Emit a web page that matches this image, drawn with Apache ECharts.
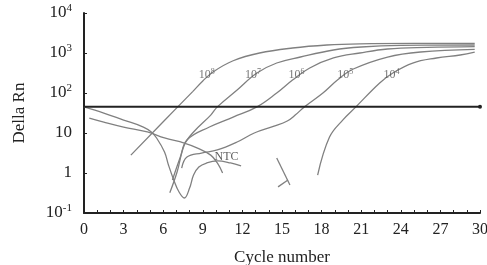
<!DOCTYPE html>
<html><head><meta charset="utf-8">
<script src="https://cdn.jsdelivr.net/npm/echarts@6/dist/echarts.min.js"></script>
<style>html,body{margin:0;padding:0;background:#fff}#c{width:487px;height:265px}</style>
</head><body><div id="c"></div>
<script>
// ---- data ----
const xTickLabels = [0, 3, 6, 9, 12, 15, 18, 21, 24, 27, 30];
const yTickLabels = ['10^-1', '1', '10', '10^2', '10^3', '10^4'];
const threshold = 45;
const thresholdCycles = [0, 30];

const c1e8 = [3.55, 7.1, 8.25, 9.0, 9.8, 11.3, 13.3, 15.8, 18.4, 20.9, 25, 29.6];
const v1e8 = [2.8, 45, 110, 200, 340, 640, 1000, 1334, 1585, 1700, 1740, 1740];

const c1e7 = [6.5, 7.05, 7.6, 8.3, 9.6, 10.1, 11.6, 13.1, 14.6, 16.4, 18.9, 21, 24, 29.6];
const v1e7 = [0.32, 1.06, 5.0, 10.6, 28, 45, 119, 316, 562, 794, 1189, 1413, 1550, 1585];

const c1e6 = [6.7, 7.3, 7.8, 9.5, 11.3, 13.1, 14.6, 15.8, 17.1, 18.9, 20.9, 23, 26, 29.6];
const v1e6 = [0.67, 2.5, 6.7, 14.1, 25, 45, 100, 211, 422, 750, 1000, 1259, 1380, 1445];

const c1e5 = [7.4, 7.8, 8.9, 10.1, 11.6, 12.9, 14.4, 15.4, 16.0, 16.7, 18.1, 19.2, 20.4, 23, 25.5, 29.6];
const v1e5 = [1.33, 2.5, 3.16, 3.76, 5.96, 10, 14.8, 20, 28, 45, 100, 211, 398, 794, 1059, 1230];

const c1e4 = [17.7, 18.6, 19.6, 20.6, 22.4, 23.4, 24.9, 26.7, 28.5, 29.6];
const v1e4 = [0.89, 7.9, 21, 45, 178, 316, 562, 750, 891, 1047];

const cNTC = [0, 1.5, 3.0, 4.5, 5.1, 5.5, 6.1, 6.4, 6.8, 7.2, 7.6, 8.0, 8.3, 8.7, 9.3, 10.1, 11.1, 11.9];
const vNTC = [44.7, 31.6, 21.1, 14.1, 10.6, 7.5, 3.35, 1.58, 0.67, 0.335, 0.237, 0.42, 0.89, 1.41, 1.78, 2.0, 1.78, 1.5];

const cBg = [0.4, 1.5, 3.0, 4.8, 6.1, 7.6, 8.6, 9.6, 10.1, 10.5];
const vBg = [23.7, 18.8, 14.1, 10.6, 7.5, 5.6, 4.2, 2.8, 1.78, 1.0];

const cSeg1 = [14.6, 15.6];
const vSeg1 = [2.37, 0.5];
const cSeg2 = [14.7, 15.45];
const vSeg2 = [0.45, 0.67];

const curveLabels = ['8', '7', '6', '5', '4'];
const labelCycles = [9.3, 12.8, 16.1, 19.8, 23.3];
const labelValue = 282;
const ntcLabel = 'NTC';
const ntcPos = [10.8, 2.6];

// ---- chart ----
const FONT = "'Liberation Serif', 'Times New Roman', serif";
const GRAY = '#808080';
function pairs(c, v) { return c.map((x, i) => [x, v[i]]); }
function curve(c, v) {
  return { type: 'line', data: pairs(c, v), smooth: 0.4, symbol: 'none',
    lineStyle: { color: GRAY, width: 1.3 }, silent: true, z: 2 };
}
const series = [
  curve(c1e8, v1e8), curve(c1e7, v1e7), curve(c1e6, v1e6), curve(c1e5, v1e5),
  curve(c1e4, v1e4), curve(cNTC, vNTC), curve(cBg, vBg), curve(cSeg1, vSeg1), curve(cSeg2, vSeg2),
  { type: 'line', data: thresholdCycles.map(x => [x, threshold]), symbol: 'none',
    lineStyle: { color: '#222', width: 2 }, z: 3,
    markPoint: { symbol: 'circle', symbolSize: 4, itemStyle: { color: '#222' },
      label: { show: false }, data: [{ coord: [thresholdCycles[1], threshold] }] } },
  { type: 'scatter', symbolSize: 0, z: 4,
    data: labelCycles.map((x, i) => ({ value: [x, labelValue], name: curveLabels[i] })),
    label: { show: true, position: 'inside', formatter: p => '{a|10}{s|' + p.name + '}',
      rich: { a: { fontFamily: FONT, fontSize: 12, color: '#555' },
              s: { fontFamily: FONT, fontSize: 8, color: '#555', padding: [0, 0, 6, 0] } } } },
  { type: 'scatter', symbolSize: 0, z: 4, data: [{ value: ntcPos, name: ntcLabel }],
    label: { show: true, position: 'inside', formatter: p => p.name,
      fontFamily: FONT, fontSize: 12, color: '#333' } }
];

const chart = echarts.init(document.getElementById('c'));
chart.setOption({
  animation: false,
  backgroundColor: '#fff',
  grid: { left: 84, right: 7, top: 13, bottom: 52, containLabel: false, outerBoundsMode: 'none' },
  xAxis: {
    type: 'value', min: 0, max: 30, interval: 1,
    name: 'Cycle number', nameLocation: 'middle', nameGap: 36,
    nameTextStyle: { fontFamily: FONT, fontSize: 17, color: '#222' },
    axisLine: { lineStyle: { color: '#222', width: 2 } },
    axisTick: { inside: true, length: 3, lineStyle: { color: '#222', width: 1 } },
    splitLine: { show: false },
    axisLabel: { fontFamily: FONT, fontSize: 16, color: '#222', margin: 9,
      formatter: v => xTickLabels.includes(v) ? String(v) : '' }
  },
  yAxis: {
    type: 'log', logBase: 10, min: 0.1, max: 10000,
    name: 'Della Rn', nameLocation: 'middle', nameGap: 56, nameRotate: 90,
    nameTextStyle: { fontFamily: FONT, fontSize: 17, color: '#222' },
    axisLine: { show: true, lineStyle: { color: '#222', width: 2 } },
    axisTick: { show: true, inside: true, length: 3, lineStyle: { color: '#222' } },
    splitLine: { show: false }, minorTick: { show: false },
    axisLabel: { margin: 12, color: '#222',
      formatter: v => {
        const e = Math.round(Math.log10(v));
        const t = yTickLabels[e + 1];
        const parts = t.split('^');
        return parts.length > 1 ? '{b|' + parts[0] + '}{s|' + parts[1] + '}' : '{b|' + parts[0] + '}';
      },
      rich: { b: { fontFamily: FONT, fontSize: 17, color: '#222' },
              s: { fontFamily: FONT, fontSize: 11, color: '#222', padding: [0, 0, 9, 0] } } }
  },
  series
});
</script></body></html>
